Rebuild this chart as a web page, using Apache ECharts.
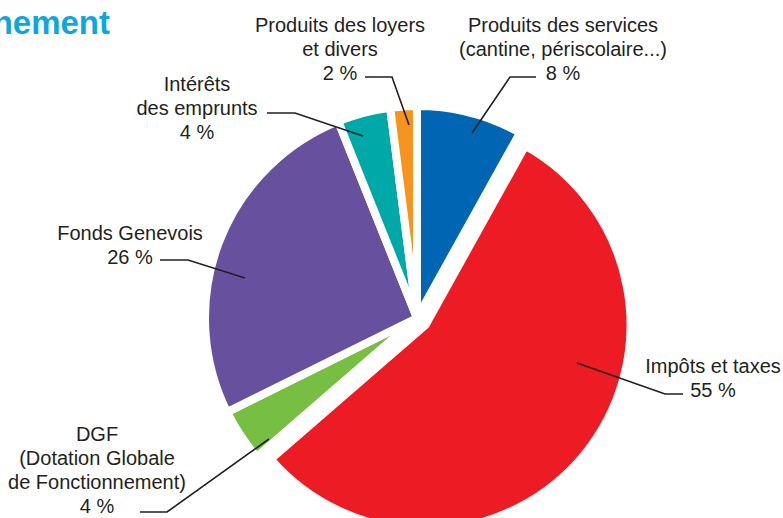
<!DOCTYPE html>
<html>
<head>
<meta charset="utf-8">
<script src="https://cdn.jsdelivr.net/npm/echarts@6/dist/echarts.min.js"></script>
<style>
html,body{margin:0;padding:0;background:#fff;}
#chart{width:783px;height:518px;}
</style>
</head>
<body>
<div id="chart"></div>
<script>
// ---- data ----
const categories = [
  "Produits des services\n(cantine, périscolaire...)",
  "Impôts et taxes",
  "DGF\n(Dotation Globale\nde Fonctionnement)",
  "Fonds Genevois",
  "Intérêts\ndes emprunts",
  "Produits des loyers\net divers"
];
const values = [8, 55, 4, 26, 4, 2];
const colors = ["#0066b3", "#ed1c24", "#77bf43", "#67519e", "#00a9a8", "#f7941d"];
const titleText = "Fonctionnement";

// ---- layout ----
const CX = 417, CY = 318, R = 212;
const EXPLODED = 1;      // index of the detached slice
const EXPLODE_DIST = 11;
const R_EXPLODED = 205;

// label annotation layout
const labelPos = [
  {x: 563, y: 49, line: [[472,133],[510,77],[536,77]]},
  {x: 713, y: 378, line: [[577,363],[665,394],[683,394]]},
  {x: 97, y: 470, line: [[269,439],[167,512],[140,512]]},
  {x: 130, y: 245, line: [[245,278],[188,260],[160,260]]},
  {x: 197, y: 108, line: [[363,136],[295,113],[267,113]]},
  {x: 340, y: 49, line: [[409,125],[392,77],[365,77]]}
];

// mid-angle of the exploded slice (clockwise from top)
const total = values.reduce((a, b) => a + b, 0);
const before = values.slice(0, EXPLODED).reduce((a, b) => a + b, 0);
const mid = (before + values[EXPLODED] / 2) / total * 2 * Math.PI;
const ox = EXPLODE_DIST * Math.sin(mid);
const oy = -EXPLODE_DIST * Math.cos(mid);

const chart = echarts.init(document.getElementById('chart'), null, {renderer: 'svg'});

const clear = {color: 'rgba(0,0,0,0)', borderWidth: 0};
const dataMain = categories.map((n, i) => ({
  name: n, value: values[i],
  itemStyle: i === EXPLODED ? clear : {color: colors[i]}
}));
const dataExploded = categories.map((n, i) => ({
  name: n, value: values[i],
  itemStyle: i === EXPLODED ? {color: colors[i]} : clear
}));
const dataLabels = categories.map((n, i) => ({
  name: n, value: values[i], itemStyle: clear
}));

const font = '"Liberation Sans", Arial, sans-serif';
const common = {
  type: 'pie',
  startAngle: 90,
  clockwise: true,
  selectedMode: false,
  silent: true,
  animation: false,
  emphasis: {disabled: true},
  itemStyle: {borderColor: '#ffffff', borderWidth: 8}
};

chart.setOption({
  animation: false,
  graphic: [{
    type: 'text',
    x: 110,
    y: 22,
    z: 10,
    style: {
      text: titleText,
      fill: '#0fa6e0',
      font: 'bold 33px ' + font,
      textAlign: 'right',
      textVerticalAlign: 'middle'
    }
  }],
  series: [
    Object.assign({}, common, {
      z: 2,
      center: [CX + ox, CY + oy],
      radius: R_EXPLODED,
      label: {show: false},
      labelLine: {show: false},
      data: dataExploded
    }),
    Object.assign({}, common, {
      z: 3,
      center: [CX, CY],
      radius: R,
      label: {show: false},
      labelLine: {show: false},
      data: dataMain
    }),
    Object.assign({}, common, {
      z: 4,
      center: [CX, CY],
      radius: R,
      avoidLabelOverlap: false,
      label: {
        show: true,
        position: 'outside',
        formatter: p => p.name + '\n' + p.value + ' %',
        fontFamily: font,
        fontSize: 20,
        lineHeight: 24,
        color: '#231f20',
        align: 'center'
      },
      labelLine: {show: true, showAbove: true, lineStyle: {color: '#231f20', width: 1.6}},
      labelLayout: function (p) {
        const lp = labelPos[p.dataIndex];
        return {
          x: lp.x,
          y: lp.y,
          align: 'center',
          verticalAlign: 'middle',
          labelLinePoints: lp.line
        };
      },
      data: dataLabels
    })
  ]
});
</script>
</body>
</html>
